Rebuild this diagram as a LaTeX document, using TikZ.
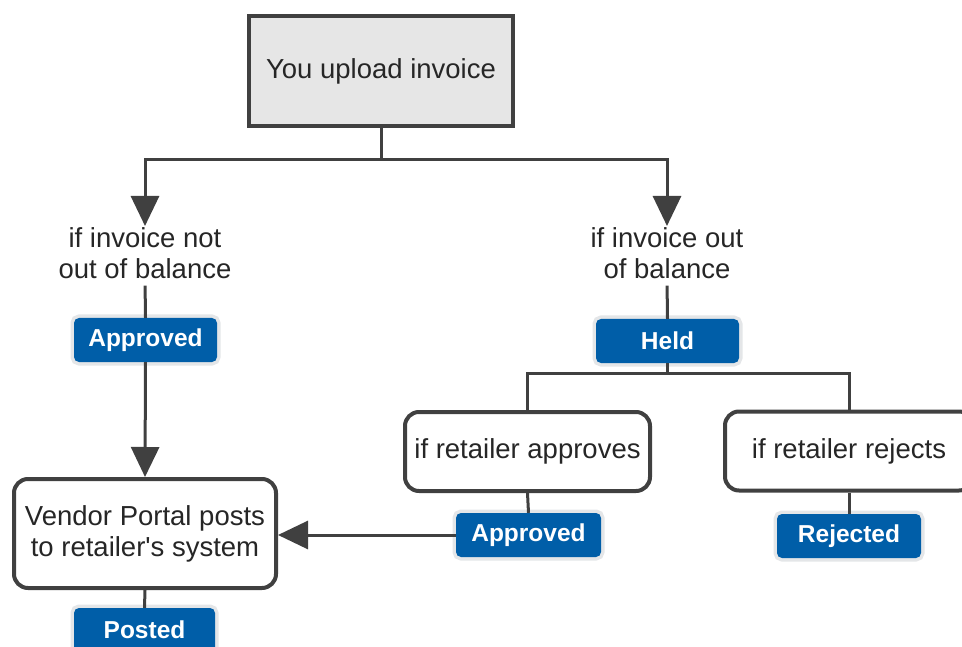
\documentclass[tikz,border=0pt]{standalone}
\usepackage{fontspec}
\setmainfont{Liberation Sans}
\usetikzlibrary{arrows.meta}
\definecolor{linegray}{HTML}{404040}
\definecolor{boxfill}{HTML}{E6E6E6}
\definecolor{badgeblue}{HTML}{005EA8}
\definecolor{halo}{HTML}{E4E6E8}
\definecolor{txt}{HTML}{262626}
\begin{document}
\begin{tikzpicture}[x=1pt,y=-1pt,
  every node/.style={font=\fontsize{27.5}{31}\selectfont, text=txt},
  mainbox/.style={draw=linegray, line width=4pt, fill=boxfill, minimum width=264pt, minimum height=110pt, inner sep=0pt},
  stepbox/.style={draw=linegray, line width=4pt, fill=white, rounded corners=14pt, inner sep=0pt, align=center},
  label/.style={align=center, inner sep=1pt},
  badge/.style={fill=badgeblue, rounded corners=5pt, preaction={draw=halo, line width=7pt},
    text=white, font=\fontsize{24.5}{28}\selectfont\bfseries, minimum height=44pt, inner sep=0pt},
  conn/.style={draw=linegray, line width=3pt},
  arr/.style={conn, -{Triangle[length=30pt,width=28pt]}}
]
\useasboundingbox (0,0) rectangle (962,647);
\clip (0,0) rectangle (962,647);

\node[mainbox] (top) at (381,71) {You upload invoice};

\node[label, anchor=north] (lab1) at (145,226) {if invoice not\\out of balance};
\node[label, anchor=north] (lab2) at (667,226) {if invoice out\\of balance};

\node[badge, minimum width=143pt] (app1) at (145.5,340) {Approved};
\node[badge, minimum width=143pt] (held) at (667.5,341) {Held};

\node[stepbox, minimum width=262pt, minimum height=109pt] (vendor) at (145,533.5) {Vendor Portal posts\\to retailer\textquotesingle s system};
\node[badge, minimum width=141pt] (posted) at (144.5,630) {Posted};

\node[stepbox, minimum width=245pt, minimum height=79pt] (rapp) at (527.5,451.5) {if retailer approves};
\node[stepbox, minimum width=248pt, minimum height=79pt] (rrej) at (849,451) {if retailer rejects};

\node[badge, minimum width=145pt] (app2) at (528.5,535) {Approved};
\node[badge, minimum width=144pt] (rej) at (849,536) {Rejected};

\coordinate (j1) at (381,160);
\coordinate (j2) at (667.5,373);

\draw[conn] (top.south) -- (j1);
\draw[arr] (j1) -| (lab1.north);
\draw[arr] (j1) -| (lab2.north);
\draw[conn, shorten <=6pt] (lab1.south) -- (app1.north);
\draw[conn, shorten <=6pt] (lab2.south) -- (held.north);
\draw[arr] (app1.south) -- (vendor.north);
\draw[conn] (vendor.south) -- (posted.north);
\draw[conn] (held.south) -- (j2);
\draw[conn] (j2) -| (rapp.north);
\draw[conn] (j2) -| (rrej.north);
\draw[conn] (rapp.south) -- (app2.north);
\draw[conn] (rrej.south) -- (rej.north);
\draw[arr] (app2.west) -- (vendor.east |- app2.west);
\end{tikzpicture}
\end{document}
